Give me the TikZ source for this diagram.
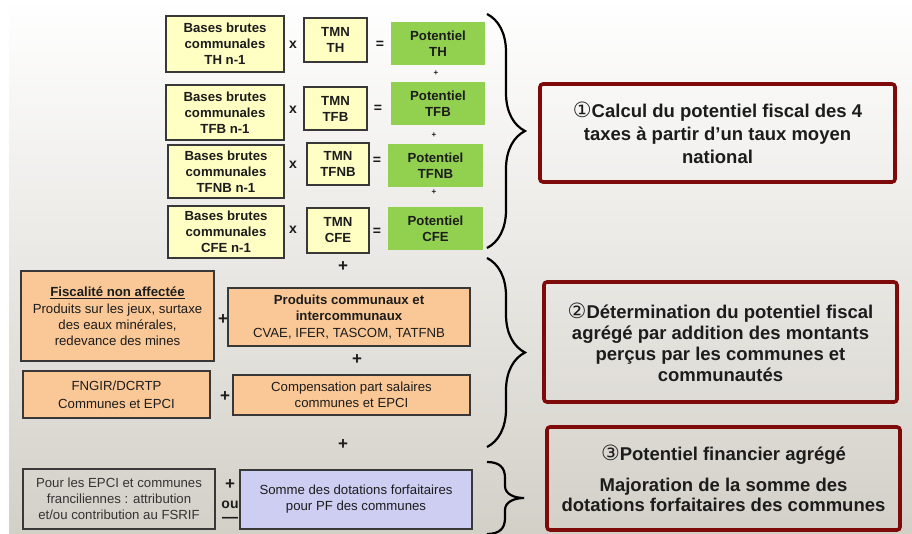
\documentclass[tikz,border=0pt]{standalone}
\usepackage{fontspec}
\setmainfont{Liberation Sans}
\newfontfamily\symfont{DejaVu Sans}
\usepackage{tikz}
\usetikzlibrary{calc,positioning,decorations.pathreplacing}
\definecolor{ylw}{HTML}{FFFFC4}
\definecolor{grn}{HTML}{92D050}
\definecolor{org}{HTML}{FAC896}
\definecolor{lav}{HTML}{CDCEF2}
\definecolor{redb}{HTML}{7E0A0A}
\definecolor{boxline}{HTML}{383838}
\definecolor{bgmid}{HTML}{EDECE9}
\definecolor{bgbot}{HTML}{D3D0C8}
\definecolor{txt}{HTML}{1C1C1C}
\newcommand{\fsm}{\fontsize{13.2}{16}\selectfont}
\newcommand{\fbig}{\fontsize{18.5}{23}\selectfont}
\newcommand{\circnum}[1]{{\symfont\mdseries\fontsize{21}{21}\selectfont #1}}
\tikzset{
  ybox/.style={draw=boxline,line width=1.3pt,fill=ylw,align=center,inner sep=2pt,font=\fsm\bfseries,text=txt},
  gbox/.style={fill=grn,align=center,inner sep=2pt,font=\fsm\bfseries,text=txt},
  obox/.style={draw=boxline,line width=1.3pt,fill=org,align=center,inner sep=2pt,font=\fsm,text=txt},
  pbox/.style={draw=boxline,line width=1.3pt,align=center,inner sep=2pt,font=\fsm,text=txt},
  rbox/.style={draw=redb,line width=3.6pt,rounded corners=3pt,align=center,inner sep=2pt,font=\fbig\bfseries,text=txt},
  op/.style={font=\fontsize{14}{14}\selectfont\bfseries,inner sep=0pt,text=txt},
  sop/.style={font=\fontsize{8}{8}\selectfont\bfseries,inner sep=0pt,text=txt},
  bop/.style={font=\fontsize{17}{17}\selectfont\bfseries,inner sep=0pt,text=txt},
  brc/.style={decorate,decoration={brace,amplitude=38pt},line width=2.2pt,black}
}

\begin{document}
\begin{tikzpicture}[x=1pt,y=-1pt]
\useasboundingbox (0,0) rectangle (912,533);
\clip (0,0) rectangle (912,533);
\shade[top color=white,middle color=bgmid,bottom color=bgbot] (9,0) rectangle (912,533);
% step 1: the four taxes
\node[ybox,minimum width=118pt,minimum height=56pt] (bth) at (225,44) {Bases brutes\\communales\\TH n-1};
\node[ybox,minimum width=63pt,minimum height=44pt] (tth) at (335.5,40) {TMN\\TH};
\node[gbox,minimum width=94pt,minimum height=43pt] (pth) at (438,43.5) {Potentiel\\TH};
\node[ybox,minimum width=118pt,minimum height=55pt] (btfb) at (225,112.5) {Bases brutes\\communales\\TFB n-1};
\node[ybox,minimum width=63pt,minimum height=43pt] (ttfb) at (335.5,108.5) {TMN\\TFB};
\node[gbox,minimum width=94pt,minimum height=43pt] (ptfb) at (438,103.5) {Potentiel\\TFB};
\node[ybox,minimum width=116pt,minimum height=53pt] (btfnb) at (226,171.5) {Bases brutes\\communales\\TFNB n-1};
\node[ybox,minimum width=62pt,minimum height=42pt] (ttfnb) at (338,164) {TMN\\TFNB};
\node[gbox,minimum width=95pt,minimum height=43pt] (ptfnb) at (435.5,165.5) {Potentiel\\TFNB};
\node[ybox,minimum width=116pt,minimum height=52pt] (bcfe) at (226,232) {Bases brutes\\communales\\CFE n-1};
\node[ybox,minimum width=62pt,minimum height=45pt] (tcfe) at (338,230.5) {TMN\\CFE};
\node[gbox,minimum width=95pt,minimum height=43pt] (pcfe) at (435.5,228.5) {Potentiel\\CFE};
\foreach \nm/\iy in {xa/45,xb/110,xc/165,xd/230}{\node[op] (\nm) at (293,\iy) {x};}
\foreach \nm/\ix/\iy in {ea/380/45,eb/378/109,ec/377/161,ed/377/232}{\node[op] (\nm) at (\ix,\iy) {=};}
\foreach \nm/\ix/\iy in {pa/436/73,pb/434/135,pc/434/192}{\node[sop] (\nm) at (\ix,\iy) {+};}
% step 2
\node[obox,minimum width=193pt,minimum height=90pt] (fna) at (117.5,316) {\textbf{\underline{Fiscalité non affectée}}\\[1pt]Produits sur les jeux, surtaxe\\des eaux minérales,\\redevance des mines};
\node[obox,minimum width=242pt,minimum height=58pt] (pci) at (349,317) {\textbf{Produits communaux et}\\\textbf{intercommunaux}\\[1pt]CVAE, IFER, TASCOM, TATFNB};
\node[obox,minimum width=187pt,minimum height=47pt] (fng) at (116.5,394.5) {FNGIR/DCRTP\\[2pt]Communes et EPCI};
\node[obox,minimum width=237pt,minimum height=40pt] (cps) at (351.5,395) {Compensation part salaires\\communes et EPCI};
\foreach \nm/\ix/\iy in {qa/343/267,qb/223/320,qc/357/360,qd/225/397,qe/343/445}{\node[bop] (\nm) at (\ix,\iy) {+};}
% step 3
\node[pbox,minimum width=192pt,minimum height=60pt,text=black!80] (fsr) at (119,499) {Pour les EPCI et communes\\franciliennes : attribution\\et/ou contribution au FSRIF};
\node[pbox,fill=lav,minimum width=232pt,minimum height=59pt] (sdf) at (356,499.5) {Somme des dotations forfaitaires\\pour PF des communes};
\node[bop] (qf) at (230,485) {+};
\node[op] (ou) at (230,505) {ou};
\node[op,font=\fontsize{16}{16}\selectfont\bfseries] (mn) at (230,520) {—};
% braces
\coordinate (b1t) at (487,14);
\coordinate (b1b) at (487,248);
\coordinate (b2t) at (487,258);
\coordinate (b2b) at (487,447);
\draw[brc] (b1t) -- (b1b);
\draw[brc] (b2t) -- (b2b);
\draw[line width=2.2pt] (487,462) .. controls (500,462) and (505,468) .. (505,478) -- (505,486)
  .. controls (505,494) and (514,498) .. (524,498) .. controls (514,498) and (505,502) .. (505,510)
  -- (505,518) .. controls (505,528) and (500,534) .. (487,534);
% right boxes
\node[rbox,minimum width=355pt,minimum height=98pt] (r1) at (717.5,133) {\circnum{①}Calcul du potentiel fiscal des 4\\taxes à partir d’un taux moyen\\national};
\node[rbox,minimum width=353pt,minimum height=120pt,font=\fontsize{18.5}{21}\selectfont\bfseries] (r2) at (720.5,342) {\circnum{②}Détermination du potentiel fiscal\\agrégé par addition des montants\\perçus par les communes et\\communautés};
\node[rbox,minimum width=353pt,minimum height=103pt,font=\fontsize{18.5}{20}\selectfont\bfseries] (r3) at (723.5,478.5) {\circnum{③}Potentiel financier agrégé\\[11pt]Majoration de la somme des\\dotations forfaitaires des communes};
\end{tikzpicture}
\end{document}
